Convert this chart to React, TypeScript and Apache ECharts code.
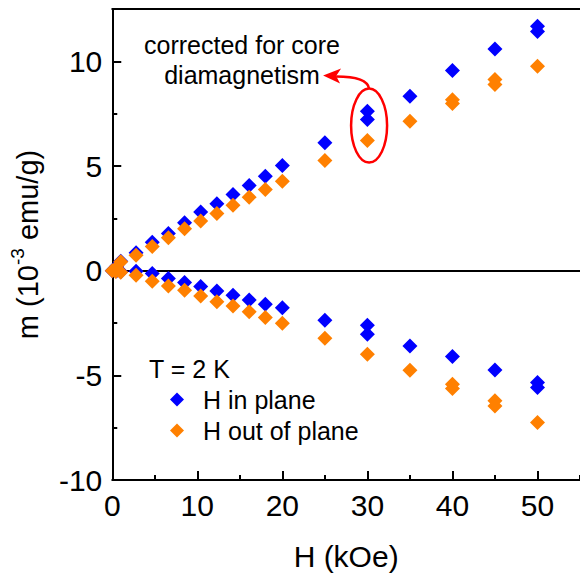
import React, { useEffect, useRef } from 'react';
import * as echarts from 'echarts';

// Magnetization m (10^-3 emu/g) versus field H (kOe), T = 2 K.
// Each branch is a list of [H, m] pairs.
const inPlaneUp: number[][] = [
  [0, 0], [0.5, 0.2], [1, 0.45], [2.8, 0.86], [4.7, 1.36], [6.6, 1.77], [8.5, 2.29],
  [10.4, 2.8], [12.3, 3.2], [14.2, 3.64], [16.1, 4.07], [18, 4.51], [20, 5.02],
  [25, 6.11], [30, 7.61], [30, 7.22], [35, 8.33], [40, 9.56], [45, 10.59],
  [50, 11.67], [50, 11.43],
];
const inPlaneDown: number[][] = [
  [0.5, -0.02], [1, -0.05], [2.8, -0.03], [4.7, -0.14], [6.6, -0.37], [8.5, -0.57],
  [10.4, -0.76], [12.3, -0.97], [14.2, -1.18], [16.1, -1.4], [18, -1.61], [20, -1.77],
  [25, -2.37], [30, -2.61], [30, -3.04], [35, -3.6], [40, -4.1], [45, -4.74],
  [50, -5.34], [50, -5.58],
];
const outPlaneUp: number[][] = [
  [0, 0], [0.4, 0.1], [1, 0.42], [2.8, 0.74], [4.7, 1.15], [6.6, 1.57], [8.5, 2.0],
  [10.4, 2.37], [12.3, 2.73], [14.2, 3.13], [16.1, 3.51], [18, 3.88], [20, 4.27],
  [25, 5.26], [30, 6.22], [35, 7.14], [40, 8.17], [40, 7.98], [45, 9.13], [45, 8.89],
  [50, 9.76],
];
const outPlaneDown: number[][] = [
  [0.4, -0.04], [1, -0.08], [2.8, -0.22], [4.7, -0.5], [6.6, -0.73], [8.5, -0.94],
  [10.4, -1.21], [12.3, -1.48], [14.2, -1.69], [16.1, -1.96], [18, -2.24], [20, -2.51],
  [25, -3.23], [30, -3.99], [35, -4.76], [40, -5.42], [40, -5.63], [45, -6.22],
  [45, -6.46], [50, -7.25],
];

const seriesNames = ['H in plane', 'H out of plane'];
const fieldRange = [0, 55];
const momentRange = [-10, 12.5];
// centre of the highlighted 30 kOe group
const highlightAt = [30.2, 6.93];

const BLUE = '#0000ff';
const ORANGE = '#ff8000';
const RED = '#ff0000';
const FONT = "'Liberation Sans', Arial, Helvetica, sans-serif";

export default function App() {
  const ref = useRef<HTMLDivElement>(null);

  useEffect(() => {
    if (!ref.current) return;
    const chart = echarts.init(ref.current, null, { renderer: 'svg' });
    const black = { color: '#000', width: 2 };
    const tickText = { color: '#000', fontFamily: FONT, fontSize: 30 };
    const hiddenAxis = {
      type: 'value' as const,
      axisLabel: { show: false },
      splitLine: { show: false },
    };

    chart.setOption({
      animation: false,
      textStyle: { fontFamily: FONT },
      grid: { left: 110, right: 0, top: 9, bottom: 95 },
      title: {
        text: 'T = 2 K',
        left: 149,
        top: 356,
        padding: 0,
        textStyle: { fontSize: 25, fontWeight: 'normal', color: '#000', fontFamily: FONT },
      },
      legend: {
        data: seriesNames,
        orient: 'vertical',
        left: 170,
        top: 387,
        padding: 0,
        itemWidth: 14,
        itemHeight: 14,
        itemGap: 6,
        icon: 'diamond',
        textStyle: { fontSize: 25, color: '#000', fontFamily: FONT, padding: [0, 0, 0, 14] },
      },
      xAxis: [
        {
          type: 'value',
          position: 'bottom',
          min: fieldRange[0],
          max: fieldRange[1],
          interval: 10,
          axisLine: { show: true, onZero: false, lineStyle: black },
          axisTick: { show: true, inside: true, length: 9, lineStyle: black },
          axisLabel: { ...tickText, margin: 10, showMaxLabel: false },
          splitLine: { show: false },
          name: 'H (kOe)',
          nameLocation: 'middle',
          nameGap: 61,
          nameTextStyle: { color: '#000', fontFamily: FONT, fontSize: 30 },
        },
        {
          ...hiddenAxis,
          position: 'bottom',
          min: fieldRange[0],
          max: fieldRange[1],
          interval: 5,
          axisLine: { show: false, onZero: false },
          axisTick: { show: true, inside: true, length: 5, lineStyle: black },
        },
        {
          ...hiddenAxis,
          position: 'top',
          min: fieldRange[0],
          max: fieldRange[1],
          axisLine: { show: true, onZero: false, lineStyle: black },
          axisTick: { show: false },
        },
        {
          // zero line of m
          ...hiddenAxis,
          position: 'bottom',
          min: fieldRange[0],
          max: fieldRange[1],
          axisLine: { show: true, onZero: true, onZeroAxisIndex: 0, lineStyle: black },
          axisTick: { show: false },
        },
      ],
      yAxis: [
        {
          type: 'value',
          position: 'left',
          min: momentRange[0],
          max: momentRange[1],
          interval: 5,
          axisLine: { show: true, onZero: false, lineStyle: black },
          axisTick: { show: true, inside: true, length: 9, lineStyle: black },
          axisLabel: { ...tickText, margin: 10, showMaxLabel: false },
          splitLine: { show: false },
          name: 'm (10{sup|-3} emu/g)',
          nameLocation: 'middle',
          nameGap: 57,
          nameTextStyle: {
            color: '#000',
            fontFamily: FONT,
            fontSize: 29,
            lineHeight: 40,
            rich: {
              sup: { fontSize: 19, lineHeight: 19, verticalAlign: 'top', color: '#000', fontFamily: FONT },
            },
          },
        },
        {
          ...hiddenAxis,
          position: 'left',
          min: momentRange[0],
          max: momentRange[1],
          interval: 2.5,
          axisLine: { show: false, onZero: false },
          axisTick: { show: true, inside: true, length: 5, lineStyle: black },
        },
      ],
      series: [
        {
          name: seriesNames[0],
          type: 'scatter',
          xAxisIndex: 0,
          yAxisIndex: 0,
          symbol: 'diamond',
          symbolSize: 15,
          itemStyle: { color: BLUE, opacity: 1 },
          data: inPlaneUp.concat(inPlaneDown),
        },
        {
          name: seriesNames[1],
          type: 'scatter',
          xAxisIndex: 0,
          yAxisIndex: 0,
          symbol: 'diamond',
          symbolSize: 15,
          itemStyle: { color: ORANGE, opacity: 1 },
          data: outPlaneUp.concat(outPlaneDown),
        },
      ],
    });

    // Ellipse around the 30 kOe points with a curved arrow to the note
    const [cx, cy] = chart.convertToPixel({ xAxisIndex: 0, yAxisIndex: 0 }, highlightAt) as number[];
    chart.setOption({
      graphic: [
        {
          type: 'text',
          x: 242,
          y: 30,
          style: {
            text: 'corrected for core\ndiamagnetism',
            fontSize: 25,
            lineHeight: 30,
            fontFamily: FONT,
            fill: '#000',
            align: 'center',
            verticalAlign: 'top',
          },
        },
        {
          type: 'ellipse',
          shape: { cx, cy, rx: 18, ry: 37 },
          style: { fill: 'none', stroke: RED, lineWidth: 2.5 },
        },
        {
          type: 'bezierCurve',
          shape: { x1: cx, y1: cy - 37, cpx1: cx - 2, cpy1: cy - 49, x2: cx - 33, y2: cy - 49 },
          style: { fill: 'none', stroke: RED, lineWidth: 2.5 },
        },
        {
          type: 'polygon',
          shape: {
            points: [
              [cx - 46, cy - 50],
              [cx - 28, cy - 57],
              [cx - 33, cy - 49.5],
              [cx - 29, cy - 42],
            ],
          },
          style: { fill: RED },
        },
      ],
    });

    return () => chart.dispose();
  }, []);

  return (
    <div
      ref={ref}
      style={{ position: 'absolute', left: 0, top: 0, width: 580, height: 576 }}
    />
  );
}
